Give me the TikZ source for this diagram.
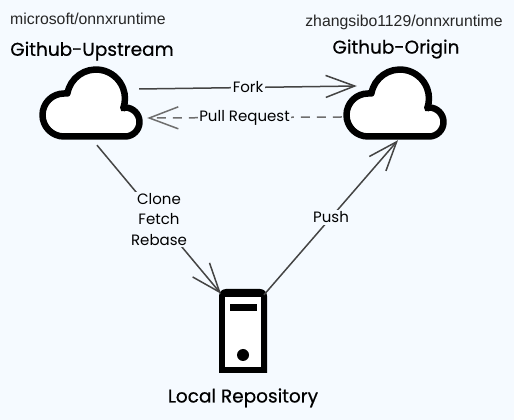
\documentclass[tikz,border=0pt]{standalone}
\usepackage{fontspec}
\setmainfont{Poppins}
\newfontfamily\titlefont[FakeBold=0.5]{Poppins}
\newfontfamily\repofont{Liberation Sans}
\usetikzlibrary{positioning,arrows.meta}
\definecolor{bgblue}{HTML}{F5FAFF}
\definecolor{linegray}{HTML}{444444}
\definecolor{dashgray}{HTML}{6E6E6E}
\tikzset{
    hostbox/.style={rectangle, inner sep=0pt, minimum width=100pt, minimum height=72pt},
    title/.style={inner sep=0pt, font=\titlefont\fontsize{18.5}{20}\selectfont},
    repo/.style={inner sep=0pt, font=\repofont\fontsize{15.8}{18}\selectfont, text=black!85},
    lbl/.style={fill=bgblue, inner sep=1.5pt, align=center, font=\fontsize{15}{20.5}\selectfont, text=black},
    arr/.style={line width=1.5pt, draw=linegray, -{Straight Barb[length=29pt,width=22pt]}},
    dasharr/.style={arr, draw=dashgray, dash pattern=on 9pt off 7pt},
    cloudicon/.pic={
        \draw[line width=6.5pt, line join=round, fill=white] (-28,-33.5) arc (270:90:21.5) -- (-24.6,9.5)
            arc (170:-20:29) -- (33,-4.5) arc (90:-90:14.5) -- cycle;
    },
    servericon/.pic={
        \fill (-24,-42) [rounded corners=7pt] -- (-24,42) -- (24,42) [sharp corners] -- (24,-42) -- cycle;
        \fill[white] (-18,-36) rectangle (18,34);
        \fill (-13.5,27) rectangle (13.5,20);
        \fill (0,-24) circle (6);
    }
}
\begin{document}
\begin{tikzpicture}[x=1pt,y=1pt]
    \fill[bgblue] (0,0) rectangle (514,420);
    \useasboundingbox (0,0) rectangle (514,420);

    \node[hostbox] (upstream) at (92,317) {};
    \node[hostbox] (origin) at (396,317) {};
    \node[hostbox, minimum width=48pt, minimum height=84pt] (localrepo) at (243,89) {};
    \pic at (upstream) {cloudicon};
    \pic at (origin) {cloudicon};
    \pic at (localrepo) {servericon};

    \node[title, above=6pt of upstream] (upstreamtitle) {Github-Upstream};
    \node[title, above=8pt of origin] (origintitle) {Github-Origin};
    \node[title, below=15pt of localrepo] (localtitle) {Local Repository};
    \node[repo, anchor=west] (upstreamrepo) at (10,401) {microsoft/onnxruntime};
    \node[repo] (originrepo) at (404,398) {zhangsibo1129/onnxruntime};

    \draw[arr] ([shift={(-3,14)}]upstream.east) -- node[lbl] (fork) {Fork} ([shift={(11,17)}]origin.west);
    \draw[dasharr] ([shift={(-4,-14)}]origin.west) -- node[lbl] (pullreq) {Pull Request} ([shift={(5,-15)}]upstream.east);
    \draw[arr] ([shift={(5,-6)}]upstream.south) -- node[lbl] (clone) {Clone\\Fetch\\Rebase} ([shift={(-22,-5)}]localrepo.north);
    \draw[arr] ([shift={(21,-6)}]localrepo.north) -- node[lbl] (push) {Push} ([shift={(2,-1)}]origin.south);
\end{tikzpicture}
\end{document}
